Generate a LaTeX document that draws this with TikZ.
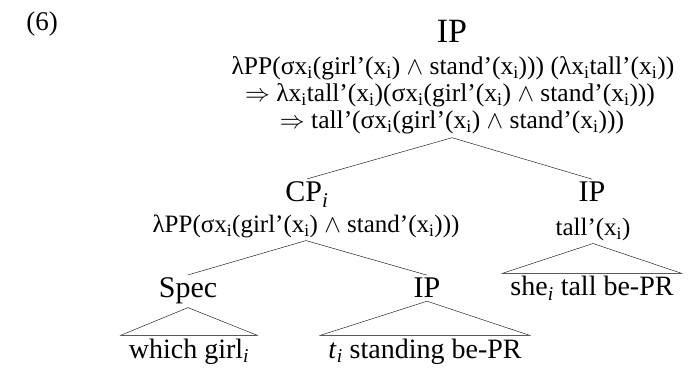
\documentclass[tikz,border=0pt]{standalone}
\usepackage{fontspec}
\setmainfont{Liberation Serif}
\newcommand{\sbi}{\textsubscript{i}}
\newcommand{\sbit}{\textsubscript{\itshape i}}
\newcommand{\pr}{’}
\begin{document}
\begin{tikzpicture}[x=1pt,y=-1pt,
    lab/.style={font=\fontsize{30}{30}\selectfont, inner sep=3pt, anchor=base},
    sem/.style={font=\fontsize{25}{26}\selectfont, inner sep=2pt, anchor=base},
    line/.style={font=\fontsize{25.5}{26}\selectfont, inner sep=0pt, anchor=base},
    leaf/.style={font=\fontsize{28}{28}\selectfont, inner xsep=8pt, inner ysep=3pt, anchor=base}]
    \useasboundingbox (0,0) rectangle (688,371);

    % Example number
    \node[lab, font=\fontsize{27}{27}\selectfont] (num) at (42,31) {(6)};

    % Root IP and its meaning, one node per line
    \node[lab, font=\fontsize{34}{34}\selectfont] (ip) at (452,43) {IP};
    \node[line] (ipsem1) at (453,75) {λPP(σx\sbi(girl\pr(x\sbi) $\wedge$ stand\pr(x\sbi))) (λx\sbi tall\pr(x\sbi))};
    \node[line] (ipsem2) at (450,102) {$\Rightarrow$ λx\sbi tall\pr(x\sbi)(σx\sbi(girl\pr(x\sbi) $\wedge$ stand\pr(x\sbi)))};
    \node[line, inner ysep=3pt] (ipsem3) at (452,129) {$\Rightarrow$ tall\pr(σx\sbi(girl\pr(x\sbi) $\wedge$ stand\pr(x\sbi)))};

    % CP_i branch
    \node[lab] (cp) at (307,202) {CP\sbit};
    \node[sem] (cpsem) at (306,233) {λPP(σx\sbi(girl\pr(x\sbi) $\wedge$ stand\pr(x\sbi)))};
    \node[lab] (spec) at (188,298) {Spec};
    \node[lab] (ipl) at (427,298) {IP};
    \node[leaf] (which) at (189,358) {which girl\sbit};
    \node[leaf] (stand) at (425,358) {\textit{t}\sbit\ standing be-PR};

    % IP branch
    \node[lab] (ipr) at (592,202) {IP};
    \node[sem] (iprsem) at (593,236) {tall\pr(x\sbi)};
    \node[leaf] (she) at (592,296) {she\sbit\ tall be-PR};

    % Branches
    \draw (ipsem3.south) -- (cp.north);
    \draw (ipsem3.south) -- (ipr.north);
    \draw (cpsem.south) -- (spec.north);
    \draw (cpsem.south) -- (ipl.north);

    % Triangles
    \draw (spec.south) -- (which.north east) -- (which.north west) -- cycle;
    \draw (ipl.south) -- (stand.north east) -- (stand.north west) -- cycle;
    \draw (iprsem.south) -- (she.north east) -- (she.north west) -- cycle;
\end{tikzpicture}
\end{document}
